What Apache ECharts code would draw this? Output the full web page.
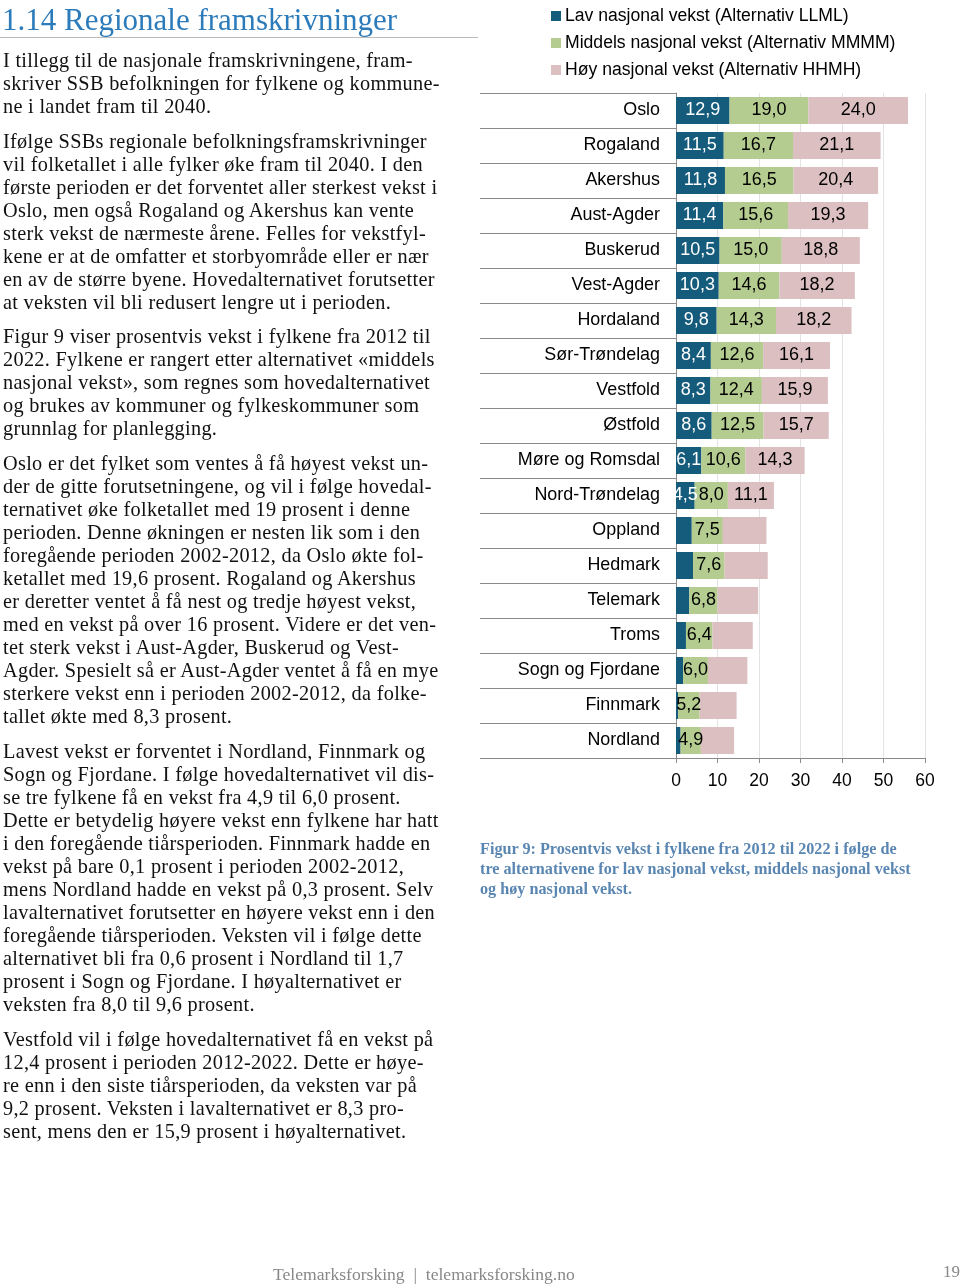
<!DOCTYPE html>
<html>
<head>
<meta charset="utf-8">
<script src="https://cdn.jsdelivr.net/npm/echarts@6/dist/echarts.min.js"></script>
<style>
  html, body { margin: 0; padding: 0; background: #fff; }
  #page { position: relative; width: 960px; height: 1284px; overflow: hidden; }
  #chart { position: absolute; left: 0; top: 0; width: 960px; height: 1284px; }
  .ln { position: absolute; left: 3px; white-space: nowrap; font-family: "Liberation Serif", "DejaVu Serif", serif; font-size: 20.3px; letter-spacing: 0.3px; color: #111; line-height: 23px; transform: translateY(-50%); }
  .cap { position: absolute; left: 480px; white-space: nowrap; font-family: "Liberation Serif", serif; font-weight: bold; font-size: 16.2px; color: #5a86b2; transform: translateY(-50%); }
  #title { position: absolute; left: 2px; top: 20px; transform: translateY(-50%); font-family: "Liberation Serif", serif; font-size: 31px; color: #2c7bbb; white-space: nowrap; }
  #rule { position: absolute; left: 0; top: 37px; width: 478px; height: 1px; background: #bbb; }
  #foot { position: absolute; left: 273px; top: 1274px; transform: translateY(-50%); font-family: "Liberation Serif", serif; font-size: 17.6px; color: #888; white-space: nowrap; }
  #pnum { position: absolute; left: 943px; top: 1272px; transform: translateY(-50%); font-family: "Liberation Serif", serif; font-size: 17px; color: #888; }
</style>
</head>
<body>
<div id="page">
  <div id="chart"></div>
  <div id="title">1.14 Regionale framskrivninger</div>
  <div id="rule"></div>
  <div id="text"></div>
  <div id="foot">Telemarksforsking &nbsp;|&nbsp; telemarksforsking.no</div>
  <div id="pnum">19</div>
</div>
<script>
// ---- Data ----
const categories = ["Oslo", "Rogaland", "Akershus", "Aust-Agder", "Buskerud", "Vest-Agder", "Hordaland",
  "Sør-Trøndelag", "Vestfold", "Østfold", "Møre og Romsdal", "Nord-Trøndelag", "Oppland", "Hedmark",
  "Telemark", "Troms", "Sogn og Fjordane", "Finnmark", "Nordland"];
const lavValues     = [12.9, 11.5, 11.8, 11.4, 10.5, 10.3, 9.8, 8.4, 8.3, 8.6, 6.1, 4.5, 3.8, 4.1, 3.2, 2.4, 1.7, 0.5, 1.1];
const middelsValues = [19.0, 16.7, 16.5, 15.6, 15.0, 14.6, 14.3, 12.6, 12.4, 12.5, 10.6, 8.0, 7.5, 7.6, 6.8, 6.4, 6.0, 5.2, 4.9];
const hoyValues     = [24.0, 21.1, 20.4, 19.3, 18.8, 18.2, 18.2, 16.1, 15.9, 15.7, 14.3, 11.1, 10.5, 10.4, 9.8, 9.7, 9.5, 8.9, 8.0];
const seriesNames = ["Lav nasjonal vekst (Alternativ LLML)", "Middels nasjonal vekst (Alternativ MMMM)", "Høy nasjonal vekst (Alternativ HHMH)"];
const xTicks = [0, 10, 20, 30, 40, 50, 60];
const labelledRowsLavHoy = 12; // rows that carry labels on the low and high segments

const captionLines = [
  "Figur 9: Prosentvis vekst i fylkene fra 2012 til 2022 i følge de",
  "tre alternativene for lav nasjonal vekst, middels nasjonal vekst",
  "og høy nasjonal vekst."
];

const paragraphs = [
  { y: 60, lines: [
    "I tillegg til de nasjonale framskrivningene, fram-",
    "skriver SSB befolkningen for fylkene og kommune-",
    "ne i landet fram til 2040."]},
  { y: 141, lines: [
    "Ifølge SSBs regionale befolkningsframskrivninger",
    "vil folketallet i alle fylker øke fram til 2040. I den",
    "første perioden er det forventet aller sterkest vekst i",
    "Oslo, men også Rogaland og Akershus kan vente",
    "sterk vekst de nærmeste årene. Felles for vekstfyl-",
    "kene er at de omfatter et storbyområde eller er nær",
    "en av de større byene. Hovedalternativet forutsetter",
    "at veksten vil bli redusert lengre ut i perioden."]},
  { y: 336, lines: [
    "Figur 9 viser prosentvis vekst i fylkene fra 2012 til",
    "2022. Fylkene er rangert etter alternativet «middels",
    "nasjonal vekst», som regnes som hovedalternativet",
    "og brukes av kommuner og fylkeskommuner som",
    "grunnlag for planlegging."]},
  { y: 463, lines: [
    "Oslo er det fylket som ventes å få høyest vekst un-",
    "der de gitte forutsetningene, og vil i følge hovedal-",
    "ternativet øke folketallet med 19 prosent i denne",
    "perioden. Denne økningen er nesten lik som i den",
    "foregående perioden 2002-2012, da Oslo økte fol-",
    "ketallet med 19,6 prosent. Rogaland og Akershus",
    "er deretter ventet å få nest og tredje høyest vekst,",
    "med en vekst på over 16 prosent. Videre er det ven-",
    "tet sterk vekst i Aust-Agder, Buskerud og Vest-",
    "Agder. Spesielt så er Aust-Agder ventet å få en mye",
    "sterkere vekst enn i perioden 2002-2012, da folke-",
    "tallet økte med 8,3 prosent."]},
  { y: 751, lines: [
    "Lavest vekst er forventet i Nordland, Finnmark og",
    "Sogn og Fjordane. I følge hovedalternativet vil dis-",
    "se tre fylkene få en vekst fra 4,9 til 6,0 prosent.",
    "Dette er betydelig høyere vekst enn fylkene har hatt",
    "i den foregående tiårsperioden. Finnmark hadde en",
    "vekst på bare 0,1 prosent i perioden 2002-2012,",
    "mens Nordland hadde en vekst på 0,3 prosent. Selv",
    "lavalternativet forutsetter en høyere vekst enn i den",
    "foregående tiårsperioden. Veksten vil i følge dette",
    "alternativet bli fra 0,6 prosent i Nordland til 1,7",
    "prosent i Sogn og Fjordane. I høyalternativet er",
    "veksten fra 8,0 til 9,6 prosent."]},
  { y: 1039, lines: [
    "Vestfold vil i følge hovedalternativet få en vekst på",
    "12,4 prosent i perioden 2012-2022. Dette er høye-",
    "re enn i den siste tiårsperioden, da veksten var på",
    "9,2 prosent. Veksten i lavalternativet er 8,3 pro-",
    "sent, mens den er 15,9 prosent i høyalternativet."]}
];

// ---- Body text ----
const textBox = document.getElementById('text');
paragraphs.forEach(p => {
  p.lines.forEach((t, i) => {
    const d = document.createElement('div');
    d.className = 'ln';
    d.style.top = (p.y + i * 23) + 'px';
    d.textContent = t;
    textBox.appendChild(d);
  });
});
captionLines.forEach((t, i) => {
  const d = document.createElement('div');
  d.className = 'cap';
  d.style.top = (849 + i * 20) + 'px';
  d.textContent = t;
  textBox.appendChild(d);
});

// ---- Chart ----
const colors = ['#155b7b', '#b4cc8f', '#dcbfc0'];
const fmt = v => v.toFixed(1).replace('.', ',');
const fontFam = '"Liberation Sans", Arial, sans-serif';

function makeSeries(name, values, idx, labelColor, labelAll) {
  return {
    name: name,
    type: 'bar',
    stack: 'total',
    barWidth: 27,
    itemStyle: { color: colors[idx] },
    label: {
      show: true,
      position: 'inside',
      color: labelColor,
      fontSize: 18,
      fontFamily: fontFam,
      formatter: p => (labelAll || p.dataIndex < labelledRowsLavHoy) ? fmt(p.value) : ''
    },
    emphasis: { disabled: true },
    data: values
  };
}

const chart = echarts.init(document.getElementById('chart'), null, { renderer: 'canvas' });
chart.setOption({
  animation: false,
  backgroundColor: 'transparent',
  textStyle: { fontFamily: fontFam },
  legend: {
    orient: 'vertical',
    left: 546,
    top: 2,
    itemWidth: 10,
    itemHeight: 10,
    itemGap: 9,
    icon: 'rect',
    textStyle: { fontSize: 17.6, color: '#000', fontFamily: fontFam, padding: [0, 0, 0, -1] },
    data: seriesNames
  },
  grid: { left: 676, right: 35, top: 93, height: 665, containLabel: false },
  xAxis: {
    type: 'value',
    min: xTicks[0],
    max: xTicks[xTicks.length - 1],
    interval: 10,
    axisLine: { show: true, lineStyle: { color: '#8a8a8a', width: 1 } },
    axisTick: { show: true, length: 5, lineStyle: { color: '#8a8a8a' } },
    axisLabel: { fontSize: 17.5, color: '#000', margin: 14, fontFamily: fontFam },
    splitLine: { show: true, lineStyle: { color: '#e3e3e3', width: 1 } }
  },
  yAxis: {
    type: 'category',
    inverse: true,
    data: categories,
    axisLine: { show: true, lineStyle: { color: '#8a8a8a', width: 1 } },
    axisTick: { show: true, length: 196, lineStyle: { color: '#8a8a8a', width: 1 } },
    axisLabel: { fontSize: 17.9, color: '#000', margin: 16, fontFamily: fontFam },
    splitLine: { show: false }
  },
  series: [
    makeSeries(seriesNames[0], lavValues, 0, '#fff', false),
    makeSeries(seriesNames[1], middelsValues, 1, '#000', true),
    makeSeries(seriesNames[2], hoyValues, 2, '#000', false)
  ]
});
</script>
</body>
</html>
